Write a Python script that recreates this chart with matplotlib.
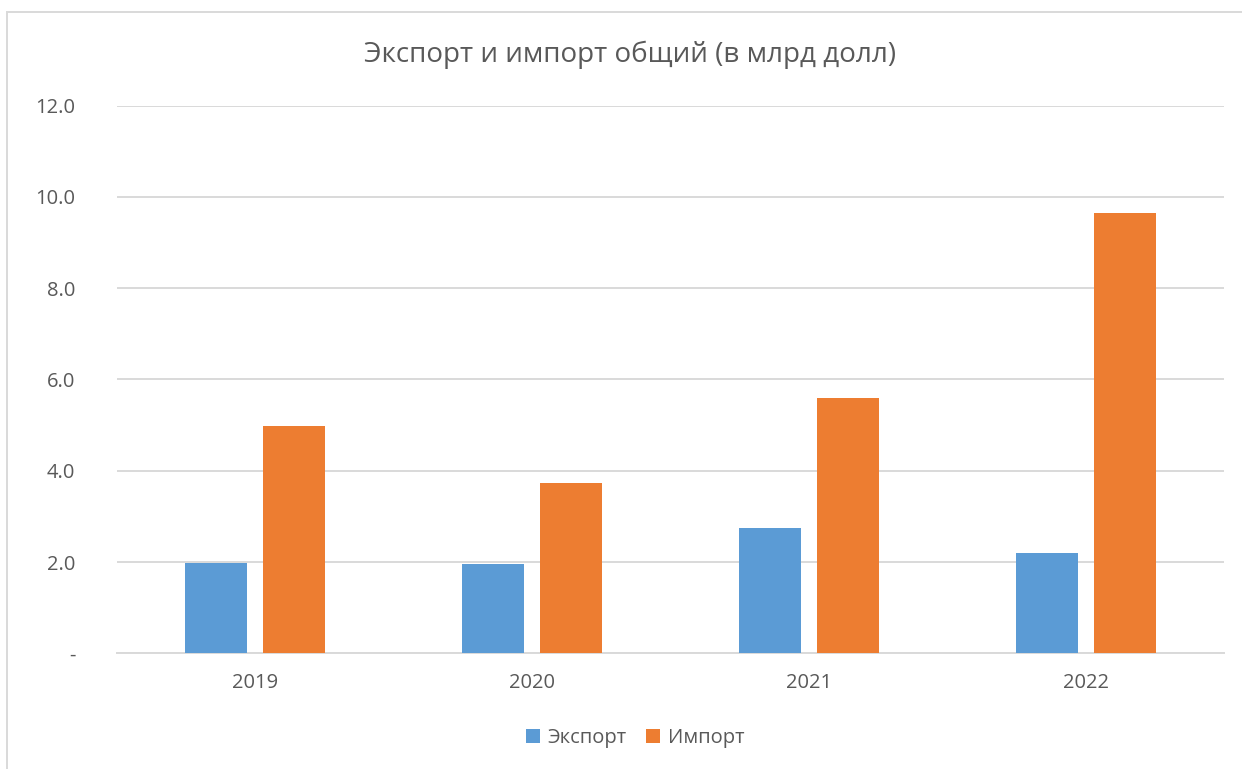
import matplotlib.pyplot as plt
import numpy as np
from matplotlib.patches import Rectangle

# Data
years = ["2019", "2020", "2021", "2022"]
export_vals = [1.98, 1.96, 2.74, 2.19]
import_vals = [4.99, 3.72, 5.59, 9.65]
y_ticks = [0, 2, 4, 6, 8, 10, 12]
title = "Экспорт и импорт общий (в млрд долл)"

plt.rcParams['font.family'] = ['Open Sans', 'DejaVu Sans']
text_color = "#595959"
grid_color = "#d9d9d9"

fig = plt.figure(figsize=(12.42, 7.69), dpi=100)
ax = fig.add_axes([117 / 1242, 1 - 653.3 / 769, (1224 - 117) / 1242, (653.3 - 105.5) / 769])

x = np.arange(len(years))
width = 0.224
offset = 0.141
ax.bar(x - offset, export_vals, width, color="#5b9bd5", label="Экспорт", zorder=3)
ax.bar(x + offset, import_vals, width, color="#ed7d31", label="Импорт", zorder=3)

ax.set_xlim(-0.5, len(years) - 0.5)
ax.set_ylim(0, 12)
ax.set_yticks(y_ticks)
ax.set_yticklabels(["-" if v == 0 else f"{v:.1f}" for v in y_ticks])
ax.set_xticks(x)
ax.set_xticklabels(years)
ax.tick_params(axis="both", length=0, labelsize=14.5, colors=text_color)
ax.tick_params(axis="y", pad=30)
ax.tick_params(axis="x", pad=14)
ax.yaxis.grid(True, color=grid_color, linewidth=1.4, zorder=0)
for s in ["top", "right", "left"]:
    ax.spines[s].set_visible(False)
ax.spines["bottom"].set_color(grid_color)
ax.spines["bottom"].set_linewidth(1.4)

fig.text(630 / 1242, 1 - 55 / 769, title, ha="center", va="center",
         fontsize=20, color=text_color)

leg = fig.legend(loc="center", bbox_to_anchor=(635 / 1242, 1 - 738 / 769), ncol=2,
                 frameon=False, fontsize=14.5, handlelength=0.7, handleheight=0.7,
                 columnspacing=1.0, handletextpad=0.35)
for t in leg.get_texts():
    t.set_color(text_color)

# chart border
fig.add_artist(Rectangle((7 / 1242, -0.1), 1.2, 1.1 - 12 / 769, transform=fig.transFigure,
                         fill=False, edgecolor=grid_color, linewidth=1.4))

fig.savefig("out.png", dpi=100)
